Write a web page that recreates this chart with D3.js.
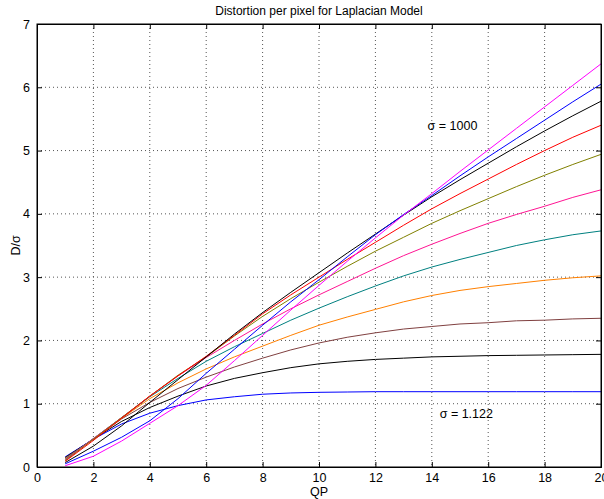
<!DOCTYPE html>
<html>
<head>
<meta charset="utf-8">
<script src="https://cdn.jsdelivr.net/npm/d3@7/dist/d3.min.js"></script>
<style>
  body { margin: 0; background: #fff; }
  text { font-family: "Liberation Sans", Arial, sans-serif; }
</style>
</head>
<body>
<div id="chart"></div>
<script>
var margin = {top: 24, right: 3, bottom: 32, left: 37},
    width = 604 - margin.left - margin.right,
    height = 499 - margin.top - margin.bottom;

// QP values on the x axis
var qp = [1,2,3,4,5,6,7,8,9,10,11,12,13,14,15,16,17,18,19,20];

// one series per sigma, top curve (at QP 20) first
var magenta = [0.02,0.17,0.41,0.69,0.97,1.29,1.68,2.08,2.48,2.87,3.25,3.62,3.98,4.32,4.67,5.01,5.35,5.69,6.03,6.37];
var blue1   = [0.05,0.25,0.47,0.73,1.08,1.48,1.86,2.24,2.61,2.96,3.32,3.67,3.99,4.29,4.60,4.90,5.19,5.48,5.77,6.05];
var black1  = [0.07,0.33,0.65,1.02,1.38,1.74,2.10,2.44,2.76,3.07,3.38,3.68,3.98,4.27,4.54,4.80,5.06,5.31,5.55,5.78];
var red     = [0.09,0.42,0.77,1.12,1.44,1.75,2.08,2.42,2.72,3.00,3.28,3.55,3.82,4.08,4.32,4.55,4.78,5.00,5.21,5.40];
var olive   = [0.10,0.44,0.78,1.12,1.45,1.74,2.07,2.38,2.66,2.92,3.17,3.41,3.63,3.85,4.05,4.24,4.43,4.61,4.78,4.94];
var pink    = [0.11,0.45,0.78,1.12,1.44,1.73,2.00,2.26,2.50,2.72,2.93,3.14,3.34,3.52,3.69,3.85,3.99,4.12,4.26,4.38];
var teal    = [0.12,0.45,0.78,1.11,1.40,1.67,1.90,2.11,2.32,2.51,2.69,2.86,3.02,3.16,3.28,3.39,3.50,3.59,3.67,3.73];
var orange  = [0.13,0.44,0.77,1.08,1.33,1.55,1.74,1.91,2.08,2.24,2.37,2.49,2.61,2.71,2.79,2.85,2.90,2.95,2.99,3.02];
var brown   = [0.14,0.44,0.76,1.02,1.24,1.42,1.58,1.72,1.85,1.96,2.05,2.12,2.18,2.22,2.26,2.28,2.31,2.32,2.34,2.35];
var black2  = [0.15,0.44,0.72,0.94,1.12,1.28,1.40,1.49,1.57,1.63,1.67,1.70,1.72,1.74,1.75,1.76,1.765,1.77,1.775,1.78];
var blue2   = [0.16,0.44,0.68,0.85,0.97,1.06,1.11,1.15,1.17,1.18,1.185,1.19,1.19,1.19,1.19,1.19,1.19,1.19,1.19,1.19];

var xTicks = [0,2,4,6,8,10,12,14,16,18,20];
var yTicks = [0,1,2,3,4,5,6,7];

var series = [
  {v: blue2, c: "#0000ff"},
  {v: black2, c: "#000000"},
  {v: brown, c: "#804040"},
  {v: orange, c: "#ff8000"},
  {v: teal, c: "#008080"},
  {v: pink, c: "#ff1493"},
  {v: olive, c: "#808000"},
  {v: red, c: "#ff0000"},
  {v: black1, c: "#000000"},
  {v: blue1, c: "#0000ff"},
  {v: magenta, c: "#ff00ff"}
];

var svg = d3.select("#chart").append("svg")
    .attr("width", 604)
    .attr("height", 499);

var g = svg.append("g")
    .attr("transform", "translate(" + margin.left + "," + margin.top + ")");

var x = d3.scaleLinear().domain([0, 20]).range([0, width]);
var y = d3.scaleLinear().domain([0, 7]).range([height, 0]);

// dotted grid
g.append("g").selectAll("line")
    .data(xTicks.slice(1, -1)).enter().append("line")
    .attr("x1", d => x(d)).attr("x2", d => x(d))
    .attr("y1", 0).attr("y2", height)
    .attr("stroke", "#555").attr("stroke-dasharray", "1,3");
g.append("g").selectAll("line")
    .data(yTicks.slice(1, -1)).enter().append("line")
    .attr("y1", d => y(d)).attr("y2", d => y(d))
    .attr("x1", 0).attr("x2", width)
    .attr("stroke", "#555").attr("stroke-dasharray", "1,3");

var line = d3.line()
    .x(function(d, i){ return x(qp[i]); })
    .y(function(d){ return y(d); });

g.append("g").selectAll("path")
    .data(series).enter().append("path")
    .attr("d", d => line(d.v))
    .attr("fill", "none")
    .attr("stroke", d => d.c)
    .attr("stroke-width", 1);

// axes, matlab-like ticks pointing inside
g.append("g").attr("transform", "translate(0," + height + ")")
    .call(d3.axisBottom(x).tickValues(xTicks).tickSize(-5).tickPadding(6));
g.append("g")
    .call(d3.axisTop(x).tickValues(xTicks).tickSize(-5).tickFormat(""));
g.append("g")
    .call(d3.axisLeft(y).tickValues(yTicks).tickSize(-5).tickPadding(7).tickFormat(d3.format("d")));
g.append("g").attr("transform", "translate(" + width + ",0)")
    .call(d3.axisRight(y).tickValues(yTicks).tickSize(-5).tickFormat(""));

svg.selectAll(".domain").attr("stroke", "#000");
svg.selectAll(".tick text").attr("font-size", 12.5).attr("fill", "#000")
    .style("font-family", "'Liberation Sans', Arial, sans-serif");

g.append("rect").attr("width", width).attr("height", height)
    .attr("fill", "none").attr("stroke", "#000");

svg.append("text")
    .attr("x", margin.left + width / 2).attr("y", 15)
    .attr("text-anchor", "middle").attr("font-size", 12)
    .text("Distortion per pixel for Laplacian Model");

svg.append("text")
    .attr("x", margin.left + width / 2).attr("y", 496)
    .attr("text-anchor", "middle").attr("font-size", 12.5)
    .text("QP");

svg.append("text")
    .attr("transform", "translate(20," + (margin.top + height / 2) + ") rotate(-90)")
    .attr("text-anchor", "middle").attr("font-size", 12.5)
    .text("D/σ");

g.append("text")
    .attr("x", x(13.85)).attr("y", y(5.32))
    .attr("font-size", 12.5)
    .text("σ = 1000");
g.append("text")
    .attr("x", x(14.28)).attr("y", y(0.77))
    .attr("font-size", 12.5)
    .text("σ = 1.122");
</script>
</body>
</html>
